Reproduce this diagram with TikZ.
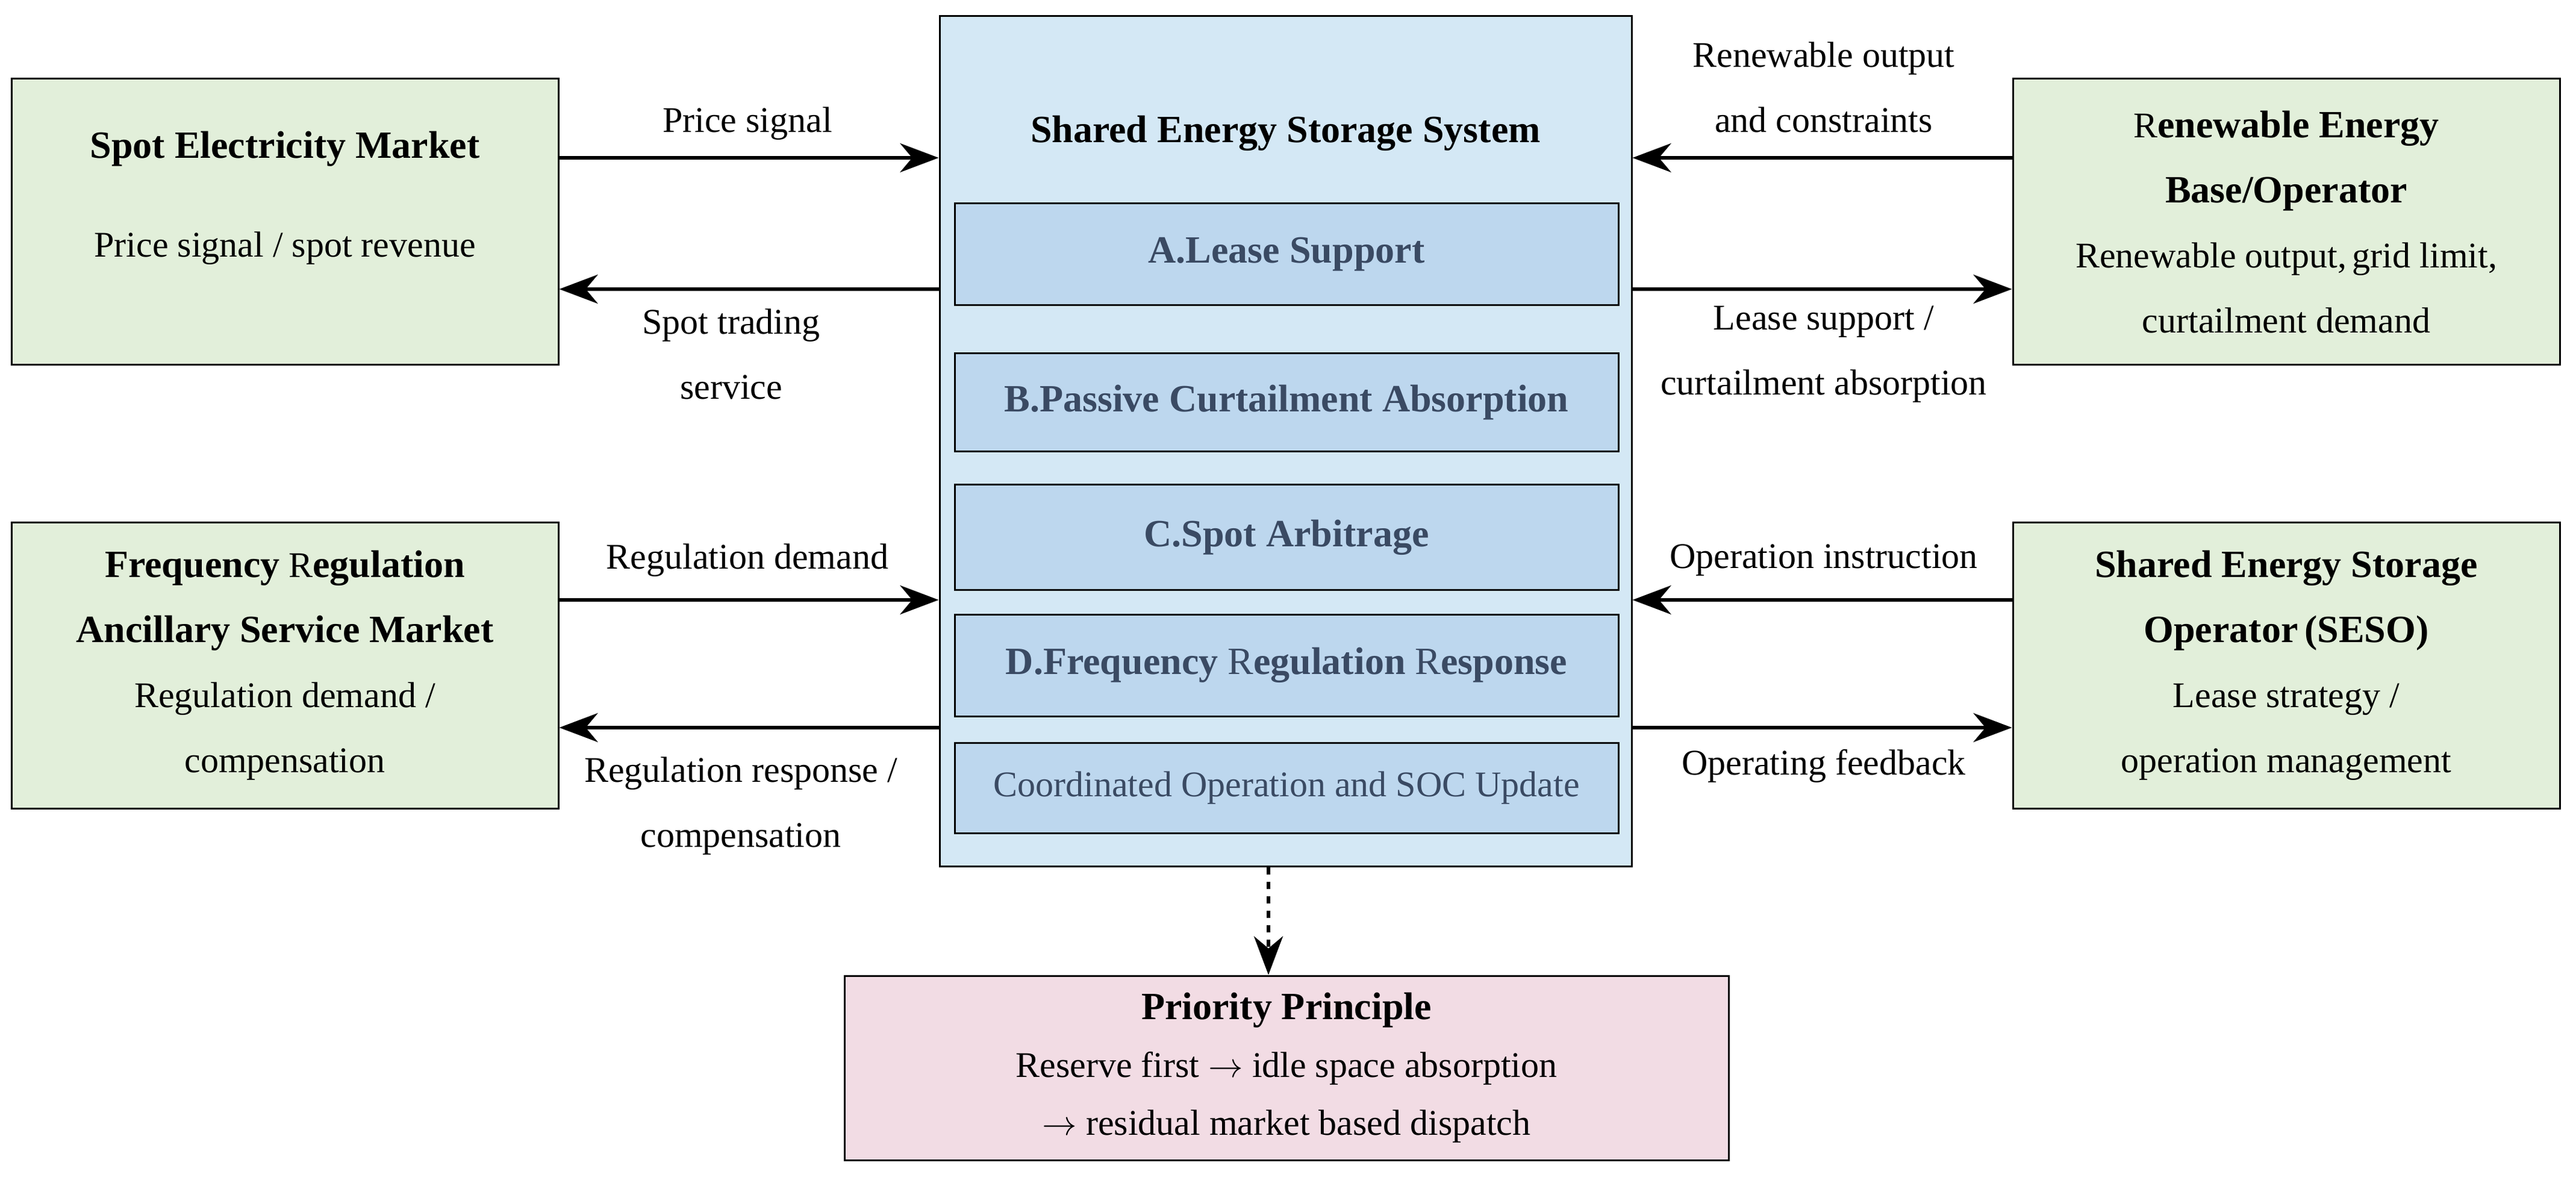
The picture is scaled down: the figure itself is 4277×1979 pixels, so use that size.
\documentclass[tikz,border=0pt]{standalone}
\usepackage{fontspec}
\setmainfont{Liberation Serif}
\usetikzlibrary{arrows.meta}

\definecolor{mktgreen}{RGB}{226,239,218}
\definecolor{sysblue}{RGB}{212,232,245}
\definecolor{modblue}{RGB}{189,215,238}
\definecolor{prpink}{RGB}{242,220,228}
\definecolor{modtext}{RGB}{58,74,99}

\tikzset{every picture/.style={line width=0.75pt}}
\tikzset{
	party/.style={draw,fill=mktgreen,minimum width=227pt,minimum height=118.75pt,align=center,inner sep=0pt,font=\fontsize{15}{27}\selectfont},
	module/.style={draw,fill=modblue,minimum width=275.5pt,align=center,inner sep=0pt,text=modtext,font=\bfseries\fontsize{16}{19}\selectfont},
	flow/.style={line width=1.5pt,-{Stealth[length=16pt,width=12pt,inset=5pt]}},
	lbl/.style={align=center,font=\fontsize{15}{27}\selectfont}
}

\begin{document}
\begin{tikzpicture}[x=0.25pt,y=0.25pt,yscale=-1]
	\useasboundingbox (0,0) rectangle (4277,1979);

	% Shared storage system
	\node [draw,fill=sysblue,minimum width=287.25pt,minimum height=352.75pt,inner sep=0pt] (sess) at (2134.5,732.5) {};
	\node [font=\bfseries\fontsize{16}{19}\selectfont] (title) at (2134.5,221) {Shared Energy Storage System};
	\node [module,minimum height=42.25pt] (modA) at (2136,422.5) {A.Lease Support};
	\node [module,minimum height=40.75pt] (modB) at (2136,668.5) {B.Passive Curtailment Absorption};
	\node [module,minimum height=43.5pt] (modC) at (2136,892) {C.Spot Arbitrage};
	\node [module,minimum height=42.25pt] (modD) at (2136,1104.5) {D.Frequency \textmd{R}egulation \textmd{R}esponse};
	\node [module,minimum height=37.5pt,font=\fontsize{15}{18}\selectfont] (modE) at (2136,1308) {Coordinated Operation and SOC Update};

	% Markets and operators
	\node [party] (spot) at (473,368.5) {\textbf{\fontsize{16}{19}\selectfont Spot Electricity Market}\\[14pt]Price signal / spot revenue\\[-4pt]};
	\node [party] (freq) at (473,1105) {\textbf{\fontsize{16}{19}\selectfont Frequency} \textmd{R}\textbf{\fontsize{16}{19}\selectfont egulation}\\\textbf{\fontsize{16}{19}\selectfont Ancillary Service Market}\\Regulation demand /\\compensation};
	\node [party] (reb) at (3796,368.5) {R\textbf{\fontsize{16}{19}\selectfont enewable Energy}\\\textbf{\fontsize{16}{19}\selectfont Base/Operator}\\Renewable output,\,grid limit,\\curtailment demand};
	\node [party] (seso) at (3796,1105) {\textbf{\fontsize{16}{19}\selectfont Shared Energy Storage}\\\textbf{\fontsize{16}{19}\selectfont Operator\,(SESO)}\\Lease strategy /\\operation management};

	% Priority principle
	\node [draw,fill=prpink,minimum width=367pt,minimum height=76.5pt,align=center,inner sep=0pt,font=\fontsize{15}{24}\selectfont] (prio) at (2136,1773) {\textbf{\fontsize{16}{19}\selectfont Priority Principle}\\Reserve first $\rightarrow$ idle space absorption\\$\rightarrow$ residual market based dispatch};

	% Flow rows
	\coordinate (rowA) at (0,262);
	\coordinate (rowB) at (0,480);
	\coordinate (rowC) at (0,996);
	\coordinate (rowD) at (0,1208);
	\coordinate (drop) at (2106,0);

	% Connections
	\draw [flow] (spot.east |- rowA) -- (sess.west |- rowA);
	\draw [flow] (sess.west |- rowB) -- (spot.east |- rowB);
	\draw [flow] (freq.east |- rowC) -- (sess.west |- rowC);
	\draw [flow] (sess.west |- rowD) -- (freq.east |- rowD);
	\draw [flow] (reb.west |- rowA) -- (sess.east |- rowA);
	\draw [flow] (sess.east |- rowB) -- (reb.west |- rowB);
	\draw [flow] (seso.west |- rowC) -- (sess.east |- rowC);
	\draw [flow] (sess.east |- rowD) -- (seso.west |- rowD);
	\draw [flow,dashed] (sess.south -| drop) -- (prio.north -| drop);

	% Flow labels
	\node [lbl] (lpa) at (1241,205) {Price signal};
	\node [lbl] (lsb) at (1214,588) {Spot trading\\service};
	\node [lbl] (lrc) at (1241,930) {Regulation demand};
	\node [lbl] (lrd) at (1230,1338) {Regulation response /\\compensation};
	\node [lbl] (lra) at (3028,145) {Renewable output\\and constraints};
	\node [lbl] (lrb) at (3028,588) {Lease support /\\curtailment absorption};
	\node [lbl] (lsc) at (3028,930) {Operation instruction};
	\node [lbl] (lsd) at (3028,1272) {Operating feedback};
\end{tikzpicture}
\end{document}
